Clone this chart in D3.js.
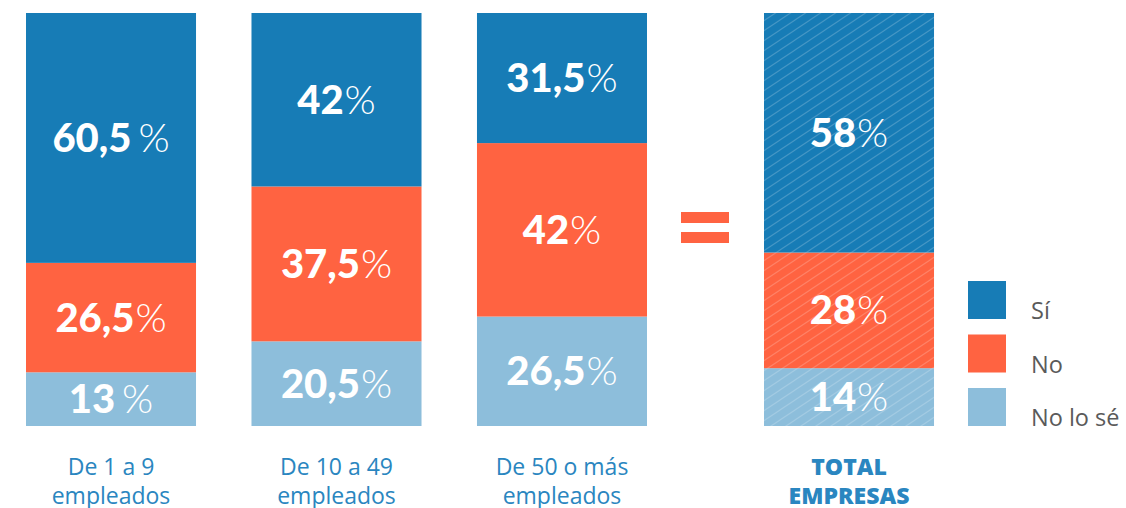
<!DOCTYPE html>
<html>
<head>
<meta charset="utf-8">
<script src="https://cdn.jsdelivr.net/npm/d3@7"></script>
<style>
  body { margin: 0; background: #fff; }
  svg { display: block; }
</style>
</head>
<body>
<div id="chart"></div>
<script>
const w = 1126;
const h = 508;

// data
const categories = ['De 1 a 9|empleados', 'De 10 a 49|empleados', 'De 50 o más|empleados', 'TOTAL|EMPRESAS'];
const series = ['Sí', 'No', 'No lo sé'];
const si = [60.5, 42, 31.5, 58];
const no = [26.5, 37.5, 42, 28];
const noSe = [13, 20.5, 26.5, 14];
// labels written with a space before the % in the source
const spacedLabels = ['0-Sí', '0-No lo sé'];

const colors = ['#177cb6', '#ff6341', '#8dbedb'];

const rows = categories.map((c, i) => ({cat: c, 'Sí': si[i], 'No': no[i], 'No lo sé': noSe[i], i: i}));

// bars: three groups evenly spaced, the total set apart after the "="
const xScale = d3.scaleBand()
  .domain(categories.slice(0, 3))
  .range([26, 647])
  .paddingInner(0.246);
const xPos = (c, i) => i < 3 ? xScale(c) : 764;
const bw = xScale.bandwidth();

const yScale = d3.scaleLinear().domain([0, 100]).range([426, 13]);

// stack from the bottom: No lo sé, No, Sí
const stack = d3.stack().keys(['No lo sé', 'No', 'Sí']);
const stacked = stack(rows);
const color = d3.scaleOrdinal().domain(series).range(colors);

const svg = d3.select('#chart')
  .append('svg')
  .attr('width', w)
  .attr('height', h);

// hatch for the total bar
const defs = svg.append('defs');
const pat = defs.append('pattern')
  .attr('id', 'hatch')
  .attr('patternUnits', 'userSpaceOnUse')
  .attr('width', 15)
  .attr('height', 10);
pat.append('path')
  .attr('d', 'M-1.5,11 L16.5,-1 M-16.5,11 L1.5,-1 M13.5,11 L31.5,-1')
  .attr('stroke', '#fff')
  .attr('stroke-opacity', 0.2)
  .attr('stroke-width', 1.1);

const layers = svg.selectAll('g.layer')
  .data(stacked)
  .enter()
  .append('g')
  .attr('class', 'layer');

layers.selectAll('rect')
  .data(d => d.map(p => ({p: p, key: d.key})))
  .enter()
  .append('rect')
  .attr('x', d => xPos(d.p.data.cat, d.p.data.i))
  .attr('y', d => yScale(d.p[1]))
  .attr('width', bw)
  .attr('height', d => yScale(d.p[0]) - yScale(d.p[1]))
  .attr('fill', d => color(d.key));

// hatch overlay on the total
layers.selectAll('rect.hatch')
  .data(d => d.filter(p => p.data.i === 3))
  .enter()
  .append('rect')
  .attr('class', 'hatch')
  .attr('x', d => xPos(d.data.cat, d.data.i))
  .attr('y', d => yScale(d[1]))
  .attr('width', bw)
  .attr('height', d => yScale(d[0]) - yScale(d[1]))
  .attr('fill', 'url(#hatch)');

// value labels
const fmt = v => String(v).replace('.', ',');
const labels = layers.selectAll('text')
  .data(d => d.map(p => ({p: p, key: d.key})))
  .enter()
  .append('text')
  .attr('x', d => xPos(d.p.data.cat, d.p.data.i) + bw / 2)
  .attr('y', d => (yScale(d.p[0]) + yScale(d.p[1])) / 2 + 14)
  .attr('text-anchor', 'middle')
  .attr('fill', '#fff')
  .style('font-family', 'Lato, sans-serif')
  .style('font-size', '40px');
labels.append('tspan')
  .style('font-weight', 900)
  .text(d => fmt(d.p[1] - d.p[0]));
labels.append('tspan')
  .style('font-weight', 300)
  .attr('dx', d => spacedLabels.includes(d.p.data.i + '-' + d.key) ? 7 : 1)
  .text('%');

// equals sign
const eq = svg.append('g').attr('fill', '#ff6341');
eq.append('rect').attr('x', 681).attr('y', 212).attr('width', 48).attr('height', 11);
eq.append('rect').attr('x', 681).attr('y', 232).attr('width', 48).attr('height', 11);

// category labels
const catText = svg.selectAll('text.cat')
  .data(categories)
  .enter()
  .append('text')
  .attr('class', 'cat')
  .attr('text-anchor', 'middle')
  .attr('fill', '#2a86c0')
  .style('font-family', '"Open Sans", sans-serif')
  .style('font-size', '23px')
  .style('font-weight', (d, i) => i === 3 ? 800 : 400)
  .attr('transform', (d, i) => `translate(${xPos(d, i) + bw / 2},475)`);
catText.selectAll('tspan')
  .data(d => d.split('|'))
  .enter()
  .append('tspan')
  .attr('x', 0)
  .attr('y', (d, i) => i * 29)
  .text(d => d);

// legend
const legend = svg.selectAll('g.legend')
  .data(series)
  .enter()
  .append('g')
  .attr('class', 'legend')
  .attr('transform', (d, i) => `translate(968,${281 + i * 53.5})`);
legend.append('rect')
  .attr('width', 38)
  .attr('height', 38)
  .attr('fill', d => color(d));
legend.append('text')
  .attr('x', 63)
  .attr('y', 38)
  .attr('fill', '#5a5a5a')
  .style('font-family', '"Open Sans", sans-serif')
  .style('font-size', '23.5px')
  .text(d => d);
</script>
</body>
</html>
